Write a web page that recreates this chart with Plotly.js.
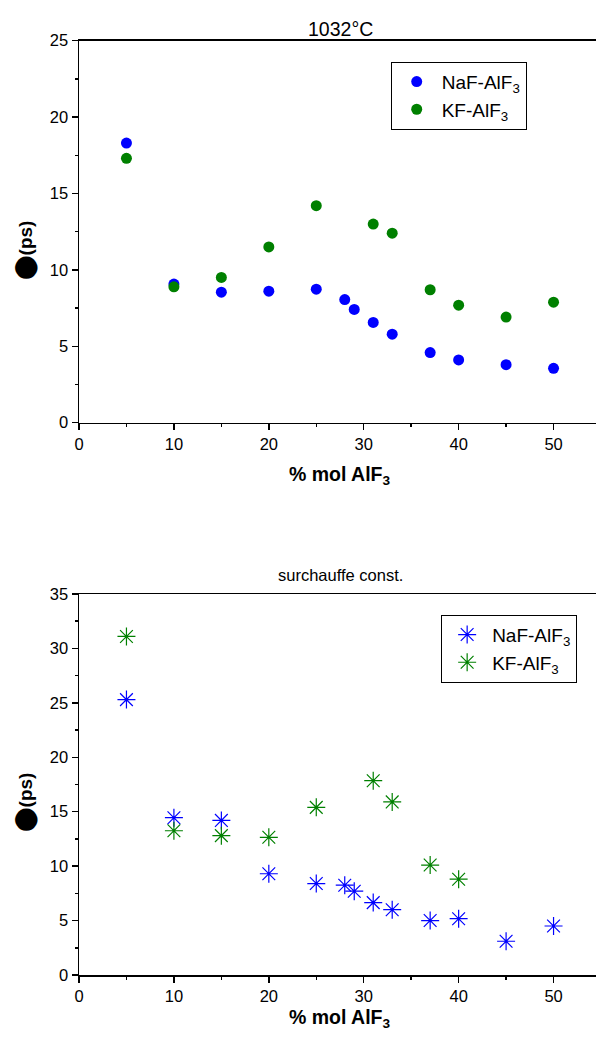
<!DOCTYPE html>
<html>
<head>
<meta charset="utf-8">
<script src="https://cdn.plot.ly/plotly-3.0.1.min.js"></script>
<style>
html, body { margin:0; padding:0; overflow:hidden; background:#fff; }
#chart { width:606px; height:1046px; }
</style>
</head>
<body>
<div id="chart"></div>
<script>
// Top panel: 1032°C
const topNaF_x = [5, 10, 15, 20, 25, 28, 29, 31, 33, 37, 40, 45, 50];
const topNaF_y = [18.3, 9.07, 8.54, 8.61, 8.74, 8.06, 7.41, 6.56, 5.79, 4.59, 4.11, 3.80, 3.56];
const topKF_x = [5, 10, 15, 20, 25, 31, 33, 37, 40, 45, 50];
const topKF_y = [17.3, 8.89, 9.51, 11.5, 14.2, 13.0, 12.4, 8.70, 7.69, 6.91, 7.89];

// Bottom panel: surchauffe const.
const botNaF_x = [5, 10, 15, 20, 25, 28, 29, 31, 33, 37, 40, 45, 50];
const botNaF_y = [25.3, 14.45, 14.2, 9.3, 8.4, 8.25, 7.7, 6.65, 6.0, 5.0, 5.17, 3.1, 4.5];
const botKF_x = [5, 10, 15, 20, 25, 31, 33, 37, 40];
const botKF_y = [31.1, 13.25, 12.8, 12.65, 15.4, 17.85, 15.9, 10.1, 8.8];

const seriesNames = ['NaF-AlF<sub>3</sub>', 'KF-AlF<sub>3</sub>'];
const titles = ['1032°C', 'surchauffe const.'];
const xTitle = '% mol AlF<sub>3</sub>';
const yTitle = '<span style="font-family:DejaVu Sans;font-size:22px">⬤</span>(ps)';

const BLUE = '#0000ff';
const GREEN = '#008000';
const FONT = 'Liberation Sans, Arial, sans-serif';
const H = 1046;
const py = p => 1 - p / H;

const traces = [
  {x: topNaF_x, y: topNaF_y, name: seriesNames[0], type: 'scatter', mode: 'markers',
   xaxis: 'x', yaxis: 'y', legend: 'legend',
   marker: {symbol: 'circle', size: 11, color: BLUE}},
  {x: topKF_x, y: topKF_y, name: seriesNames[1], type: 'scatter', mode: 'markers',
   xaxis: 'x', yaxis: 'y', legend: 'legend',
   marker: {symbol: 'circle', size: 11, color: GREEN}},
  {x: botNaF_x, y: botNaF_y, name: seriesNames[0], type: 'scatter', mode: 'markers',
   xaxis: 'x2', yaxis: 'y2', legend: 'legend2',
   marker: {symbol: 'asterisk-open', size: 15, color: BLUE, line: {color: BLUE, width: 1.2}}},
  {x: botKF_x, y: botKF_y, name: seriesNames[1], type: 'scatter', mode: 'markers',
   xaxis: 'x2', yaxis: 'y2', legend: 'legend2',
   marker: {symbol: 'asterisk-open', size: 15, color: GREEN, line: {color: GREEN, width: 1.2}}}
];

const tickFont = {family: FONT, size: 16.5, color: '#000'};
function mainX(anchor) {
  return {anchor: anchor, range: [0, 55], autorange: false, dtick: 10, tick0: 0,
    ticks: 'outside', ticklen: 6, tickwidth: 1.5, tickcolor: '#000',
    minor: {dtick: 5, tick0: 0, ticks: 'outside', ticklen: 3, tickwidth: 1.5, tickcolor: '#000'},
    showline: true, linecolor: '#000', linewidth: 1.5, mirror: true,
    showgrid: false, zeroline: false, tickfont: tickFont, fixedrange: true};
}
function mainY(anchor, domain, maxv) {
  return {anchor: anchor, domain: domain, range: [0, maxv], autorange: false, dtick: 5, tick0: 0,
    ticks: 'outside', ticklen: 6, tickwidth: 1.5, tickcolor: '#000',
    minor: {dtick: 2.5, tick0: 0, ticks: 'outside', ticklen: 3, tickwidth: 1.5, tickcolor: '#000'},
    showline: true, linecolor: '#000', linewidth: 1.5, mirror: true,
    showgrid: false, zeroline: false, tickfont: tickFont, fixedrange: true};
}
function mirrorX(over, anchor) {
  return {overlaying: over, matches: over, anchor: anchor, side: 'top', range: [0, 55],
    dtick: 10, tick0: 0, ticks: 'inside', ticklen: 6, tickwidth: 1.5, tickcolor: '#000',
    minor: {dtick: 5, tick0: 0, ticks: 'inside', ticklen: 3, tickwidth: 1.5, tickcolor: '#000'},
    showticklabels: false, showgrid: false, zeroline: false, showline: false};
}
function mirrorY(over, anchor, maxv) {
  return {overlaying: over, matches: over, anchor: anchor, side: 'right', range: [0, maxv],
    dtick: 5, tick0: 0, ticks: 'inside', ticklen: 6, tickwidth: 1.5, tickcolor: '#000',
    minor: {dtick: 2.5, tick0: 0, ticks: 'inside', ticklen: 3, tickwidth: 1.5, tickcolor: '#000'},
    showticklabels: false, showgrid: false, zeroline: false, showline: false};
}

const topDom = [py(422.7), py(40.7)];
const botDom = [py(975), py(594)];

const legendBase = {
  bgcolor: '#fff', bordercolor: '#000', borderwidth: 1,
  font: {family: FONT, size: 19, color: '#000'},
  xanchor: 'left', yanchor: 'top', itemwidth: 40, tracegroupgap: 0
};

const layout = {
  width: 606, height: H,
  margin: {l: 79, r: 4.5, t: 0, b: 0, pad: 0},
  paper_bgcolor: '#fff', plot_bgcolor: '#fff',
  showlegend: true,
  font: {family: FONT, color: '#000'},
  xaxis: mainX('y'),
  yaxis: mainY('x', topDom, 25),
  xaxis2: mainX('y2'),
  yaxis2: mainY('x2', botDom, 35),
  xaxis3: mirrorX('x', 'y'),
  yaxis3: mirrorY('y', 'x', 25),
  xaxis4: mirrorX('x2', 'y2'),
  yaxis4: mirrorY('y2', 'x2', 35),
  legend: Object.assign({}, legendBase, {x: (391 - 79) / 522.5, y: py(61.7)}),
  legend2: Object.assign({}, legendBase, {x: (441.5 - 79) / 522.5, y: py(614.7)}),
  annotations: [
    {text: titles[0], xref: 'paper', yref: 'paper', x: 0.5, y: py(29), xanchor: 'center', yanchor: 'middle',
     showarrow: false, font: {family: FONT, size: 19.5, color: '#000'}},
    {text: titles[1], xref: 'paper', yref: 'paper', x: 0.5, y: py(575), xanchor: 'center', yanchor: 'middle',
     showarrow: false, font: {family: FONT, size: 16.5, color: '#000'}},
    {text: '<b>' + xTitle + '</b>', xref: 'paper', yref: 'paper', x: 0.5, y: py(476), xanchor: 'center', yanchor: 'middle',
     showarrow: false, font: {family: FONT, size: 19.5, color: '#000'}},
    {text: '<b>' + xTitle + '</b>', xref: 'paper', yref: 'paper', x: 0.5, y: py(1018), xanchor: 'center', yanchor: 'middle',
     showarrow: false, font: {family: FONT, size: 19.5, color: '#000'}},
    {text: '<b>' + yTitle + '</b>', xref: 'paper', yref: 'paper', x: (25 - 79) / 522.5, y: py(251), xanchor: 'center', yanchor: 'middle',
     textangle: -90, showarrow: false, font: {family: FONT, size: 19, color: '#000'}},
    {text: '<b>' + yTitle + '</b>', xref: 'paper', yref: 'paper', x: (25 - 79) / 522.5, y: py(803), xanchor: 'center', yanchor: 'middle',
     textangle: -90, showarrow: false, font: {family: FONT, size: 19, color: '#000'}}
  ]
};

Plotly.newPlot('chart', traces, layout, {displayModeBar: false, staticPlot: true});
</script>
</body>
</html>
